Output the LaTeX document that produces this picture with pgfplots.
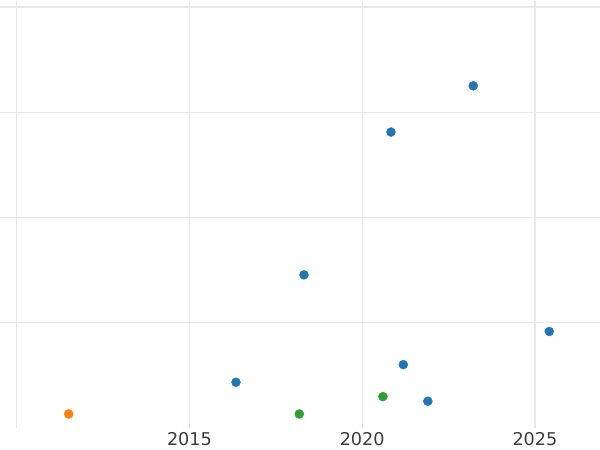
\documentclass[border=0pt]{standalone}
\usepackage{fontspec}
\setmainfont{DejaVu Sans}
\usepackage{pgfplots}
\pgfplotsset{compat=1.18}
\definecolor{tabblue}{HTML}{1F77B4}
\definecolor{taborange}{HTML}{FF7F0E}
\definecolor{tabgreen}{HTML}{2CA02C}
\definecolor{gridgray}{RGB}{232,232,232}
\definecolor{textgray}{RGB}{60,60,60}
\begin{document}
\begin{tikzpicture}
\begin{axis}[
  scale only axis,
  width=600bp, height=427bp,
  xmin=2009.517, xmax=2026.883,
  ymin=0, ymax=4.057,
  axis line style={draw=none},
  major tick length=0pt,
  xtick={2010,2015,2020,2025},
  xticklabels={,2015,2020,2025},
  ytick={1,2,3,4},
  yticklabels={},
  grid=major,
  major grid style={draw=gridgray, line width=1.3bp},
  /pgf/number format/assume math mode=true,
  xticklabel style={font=\fontsize{17.7}{20}\selectfont, text=textgray, yshift=-1bp},
  clip=false,
]
\addplot[only marks, color=tabblue, mark=*, mark size=4.5bp, mark options={draw=tabblue, fill=tabblue}] coordinates {
  (2016.347,0.434) (2021.19,0.602) (2021.90,0.254) (2025.415,0.917)
  (2018.315,1.455) (2020.833,2.812) (2023.215,3.251)
};
\addplot[only marks, color=taborange, mark=*, mark size=4.5bp, mark options={draw=taborange, fill=taborange}] coordinates {
  (2011.505,0.133)
};
\addplot[only marks, color=tabgreen, mark=*, mark size=4.5bp, mark options={draw=tabgreen, fill=tabgreen}] coordinates {
  (2018.18,0.133) (2020.60,0.298)
};
\end{axis}
\pgfresetboundingbox
\useasboundingbox (0,-22bp) rectangle (600bp,428bp);
\end{tikzpicture}
\end{document}
